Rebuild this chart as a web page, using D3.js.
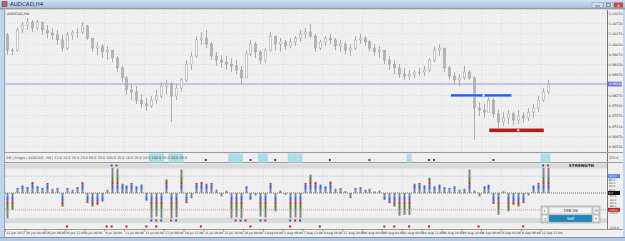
<!DOCTYPE html>
<html>
<head>
<meta charset="utf-8">
<script src="https://cdnjs.cloudflare.com/ajax/libs/d3/7.8.5/d3.min.js"></script>
<style>
html, body { margin: 0; padding: 0; background: #fff; }
svg { display: block; font-family: "DejaVu Sans", sans-serif; }
</style>
</head>
<body>
<div id="chart"></div>
<script>
// AUDCAD price bars
const firstOpen = 1.0032;
const highs = [1.0039,0.9987,1.0056,1.0076,1.0090,1.0083,1.0083,1.0069,1.0066,1.0056,
  1.0049,1.0032,1.0042,1.0049,1.0056,1.0076,1.0066,1.0021,1.0008,1.0001,
  0.9994,0.9980,0.9960,0.9926,0.9891,0.9864,0.9857,0.9830,0.9816,0.9823,
  0.9844,0.9871,0.9878,0.9871,0.9864,0.9885,0.9946,0.9974,1.0028,1.0042,
  1.0049,1.0008,0.9974,0.9963,0.9960,0.9953,0.9946,0.9926,0.9980,1.0015,
  1.0008,0.9980,0.9987,1.0042,1.0015,1.0021,1.0015,1.0021,1.0028,1.0049,
  1.0056,1.0069,1.0035,1.0015,1.0028,1.0035,1.0021,1.0015,1.0008,1.0001,
  1.0028,1.0035,1.0028,1.0015,1.0001,0.9994,0.9980,0.9960,0.9946,0.9932,
  0.9919,0.9912,0.9912,0.9919,0.9926,0.9953,0.9994,1.0001,0.9987,0.9926,
  0.9905,0.9898,0.9926,0.9912,0.9891,0.9802,0.9796,0.9830,0.9816,0.9775,
  0.9768,0.9775,0.9768,0.9775,0.9768,0.9782,0.9796,0.9823,0.9850,0.9878];
const lows = [0.9963,0.9963,0.9974,1.0039,1.0049,1.0042,1.0049,1.0032,1.0021,1.0015,
  0.9998,0.9974,0.9980,1.0015,1.0021,1.0035,1.0015,0.9974,0.9963,0.9953,
  0.9946,0.9939,0.9905,0.9871,0.9827,0.9809,0.9796,0.9782,0.9772,0.9782,
  0.9796,0.9816,0.9827,0.9734,0.9809,0.9837,0.9871,0.9912,0.9953,0.9998,
  0.9987,0.9946,0.9926,0.9919,0.9912,0.9905,0.9898,0.9864,0.9885,0.9960,
  0.9953,0.9932,0.9939,0.9974,0.9980,0.9974,0.9980,0.9987,0.9994,1.0008,
  1.0021,1.0021,0.9974,0.9980,0.9994,1.0001,0.9980,0.9974,0.9967,0.9960,
  0.9980,1.0001,0.9994,0.9974,0.9960,0.9953,0.9932,0.9912,0.9898,0.9885,
  0.9878,0.9878,0.9885,0.9891,0.9891,0.9905,0.9939,0.9960,0.9905,0.9878,
  0.9864,0.9857,0.9878,0.9878,0.9673,0.9755,0.9748,0.9768,0.9748,0.9697,
  0.9720,0.9727,0.9724,0.9727,0.9731,0.9738,0.9748,0.9768,0.9802,0.9830];
const closes = [0.9980,0.9980,1.0049,1.0066,1.0076,1.0056,1.0076,1.0049,1.0039,1.0032,
  1.0015,0.9987,1.0032,1.0039,1.0042,1.0063,1.0021,0.9987,0.9994,0.9974,
  0.9980,0.9953,0.9919,0.9885,0.9844,0.9837,0.9809,0.9796,0.9789,0.9809,
  0.9823,0.9857,0.9864,0.9823,0.9850,0.9878,0.9932,0.9960,1.0015,1.0021,
  1.0001,0.9960,0.9946,0.9939,0.9932,0.9926,0.9912,0.9885,0.9967,1.0001,
  0.9974,0.9946,0.9980,1.0028,1.0001,1.0008,0.9994,1.0008,1.0021,1.0035,
  1.0042,1.0028,0.9987,1.0008,1.0021,1.0015,0.9994,1.0001,0.9980,0.9987,
  1.0015,1.0021,1.0008,0.9987,0.9974,0.9980,0.9946,0.9932,0.9919,0.9898,
  0.9891,0.9898,0.9905,0.9905,0.9912,0.9946,0.9980,0.9987,0.9919,0.9891,
  0.9878,0.9885,0.9905,0.9885,0.9782,0.9775,0.9768,0.9809,0.9762,0.9734,
  0.9748,0.9762,0.9741,0.9755,0.9748,0.9768,0.9782,0.9809,0.9837,0.9864];

const priceTicks = [1.0107,1.0072,1.0037,1.0002,0.9967,0.9932,0.9897,0.9827,0.9792,0.9757,0.9722,0.9687,0.9652];
const bidPrice = 0.98640;

// supply / demand zones
const zoneFrom = [89.4, 97.1];
const zoneTo = [101.7, 108.2];
const zoneHigh = [0.9830, 0.9713];
const zoneLow = [0.9820, 0.9699];
const zoneMark = [96, 103];

// strength histogram
const strength = [-150,-100,30,45,35,65,40,30,60,25,
  30,-80,30,20,35,65,-60,-80,-70,-50,
  20,150,145,55,45,60,40,50,-45,-150,
  -140,-150,80,-150,-145,140,-60,-30,60,65,
  55,60,20,-20,15,-150,-145,-150,40,-40,
  -15,-140,-145,60,-110,15,-10,-150,-145,-150,
  60,110,65,50,40,68,25,30,10,-30,
  30,35,20,25,10,15,-40,-60,-80,-135,
  -130,-130,55,60,45,90,40,50,35,30,
  40,20,25,140,15,-20,40,50,-65,-130,
  10,-110,-70,-80,-60,-15,45,60,150,150];
const strengthTicks = [80,60,40,20,-20,-40,-60,-80,-120];
const alertBars = [29,30,31,33,34,35,45,46,47,51,52,57,58,59,81,108,109];
const signalDots = [40,49,54,65,73,85,86,98];
const topDots = [21,22,108,109];
const bottomDots = [29,30,31,33,34,46,47,48,51,52,57,58,59];
const redMarks = [12,20,21,24,28,30,39,49,57,63,76,78,81,85,95,104];

const timeLabels = ["22 Jun 2017","26 Jun 04:00","28 Jun 08:00","30 Jun 12:00","4 Jul 16:00",
  "6 Jul 20:00","11 Jul 00:00","13 Jul 04:00","17 Jul 08:00","19 Jul 12:00","21 Jul 16:00",
  "25 Jul 20:00","28 Jul 00:00","1 Aug 04:00","3 Aug 08:00","7 Aug 12:00","9 Aug 16:00",
  "11 Aug 20:00","16 Aug 00:00","18 Aug 04:00","22 Aug 08:00","24 Aug 12:00","28 Aug 16:00",
  "30 Aug 20:00","4 Sep 00:00","6 Sep 04:00","8 Sep 08:00","12 Sep 12:00"];

const W = 625, H = 241;
const L = 5, R = 607;
const mainTop = 10, mainBot = 152;
const sub1Top = 153, sub1Bot = 162;
const sub2Top = 163, sub2Bot = 229;
const bg = "#f0f0f0";

const bars = closes.map((c, i) => {
    const o = i === 0 ? firstOpen : closes[i - 1];
    return {i, o, c, h: Math.max(highs[i], o, c), l: Math.min(lows[i], o, c)};
});

const svg = d3.select("#chart").append("svg")
    .attr("width", W)
    .attr("height", H);

const defs = svg.append("defs");
const grad = defs.append("linearGradient").attr("id", "title").attr("x1", 0).attr("y1", 0).attr("x2", 0).attr("y2", 1);
grad.append("stop").attr("offset", "0%").attr("stop-color", "#d3e2f5");
grad.append("stop").attr("offset", "100%").attr("stop-color", "#a6c0e2");

// window frame
svg.append("rect").attr("width", W).attr("height", H).attr("fill", "#c3d5ec");
svg.append("rect").attr("width", W).attr("height", 8).attr("fill", "url(#title)");
svg.append("rect").attr("x", 2).attr("y", 1.5).attr("width", 5).attr("height", 5).attr("fill", "#e05a2a").attr("stroke", "#2a5fb0").attr("stroke-width", 0.6);
svg.append("text").attr("x", 10).attr("y", 6.2).attr("font-size", 5.5).attr("fill", "#1d2a3a").text("AUDCAD,H4");

const btns = [[592, "#cfdcee"], [604, "#cfdcee"], [614, "#d6453a"]];
btns.forEach(([bx, c]) => {
    svg.append("rect").attr("x", bx).attr("y", 2.5).attr("width", bx === 592 ? 11 : 9).attr("height", 5)
        .attr("fill", c).attr("stroke", "#7d93b3").attr("stroke-width", 0.5);
});
svg.append("line").attr("x1", 595).attr("x2", 600).attr("y1", 6).attr("y2", 6).attr("stroke", "#333").attr("stroke-width", 0.6);
svg.append("rect").attr("x", 606.5).attr("y", 3.8).attr("width", 4).attr("height", 2.6).attr("fill", "none").attr("stroke", "#333").attr("stroke-width", 0.5);
svg.append("text").attr("x", 618.5).attr("y", 6.6).attr("font-size", 4.5).attr("fill", "#fff").attr("text-anchor", "middle").text("x");

svg.append("rect").attr("x", 0).attr("y", 8).attr("width", W).attr("height", 1.5).attr("fill", "#9a9a9a");

// chart canvas
svg.append("rect").attr("x", 4).attr("y", 9.5).attr("width", 619).attr("height", 228).attr("fill", bg);
svg.append("line").attr("x1", 4.5).attr("x2", 4.5).attr("y1", 9.5).attr("y2", 237).attr("stroke", "#8ea4c2");
svg.append("rect").attr("x", 0).attr("y", 237).attr("width", W).attr("height", 4).attr("fill", "#b6c9e3");
svg.append("line").attr("x1", 0).attr("x2", W).attr("y1", 237.5).attr("y2", 237.5).attr("stroke", "#7f95b5");

// scales
const x = d3.scaleLinear().domain([-0.5, 120.9]).range([L, R]);
const y = d3.scaleLinear().domain([0.96315, 1.01173]).range([mainBot, mainTop]);
const ys = d3.scaleLinear().domain([-226, 226]).range([231, 155]);
const bw = x(1) - x(0);

// grid
const gridX = timeLabels.map((t, k) => x(k * 4) - 2);
const grid = svg.append("g").attr("stroke", "#cdcdcd").attr("stroke-width", 0.6).attr("stroke-dasharray", "1,2");
gridX.forEach(gx => {
    grid.append("line").attr("x1", gx).attr("x2", gx).attr("y1", mainTop).attr("y2", mainBot);
    grid.append("line").attr("x1", gx).attr("x2", gx).attr("y1", 169).attr("y2", 217);
});
priceTicks.forEach(p => {
    grid.append("line").attr("x1", L).attr("x2", R).attr("y1", Math.round(y(p)) + 0.5).attr("y2", Math.round(y(p)) + 0.5);
});

// price axis
svg.append("line").attr("x1", R + 0.5).attr("x2", R + 0.5).attr("y1", mainTop).attr("y2", sub2Bot).attr("stroke", "#7a7a7a");
const pAxis = svg.append("g").attr("font-size", 3.3).attr("fill", "#333");
priceTicks.forEach(p => {
    const py = Math.round(y(p)) + 0.5;
    svg.append("line").attr("x1", R).attr("x2", R + 1.5).attr("y1", py).attr("y2", py).attr("stroke", "#555").attr("stroke-width", 0.5);
    pAxis.append("text").attr("x", R + 2).attr("y", py + 1.2).text(p.toFixed(5));
});

// bid line
svg.append("line").attr("x1", L).attr("x2", R).attr("y1", y(bidPrice)).attr("y2", y(bidPrice))
    .attr("stroke", "#8f8cf0").attr("stroke-width", 0.9);
svg.append("rect").attr("x", R + 1).attr("y", y(bidPrice) - 2.4).attr("width", 14).attr("height", 4.8).attr("fill", "#7673e0");
svg.append("text").attr("x", R + 2).attr("y", y(bidPrice) + 1.2).attr("font-size", 3.3).attr("fill", "#fff").text(bidPrice.toFixed(5));

// candles
const cg = svg.append("g");
cg.selectAll("line.wick").data(bars).enter().append("line")
    .attr("x1", d => Math.round(x(d.i)) + 0.5).attr("x2", d => Math.round(x(d.i)) + 0.5)
    .attr("y1", d => y(d.h)).attr("y2", d => y(d.l))
    .attr("stroke", "#9a9a9a").attr("stroke-width", 0.8);
cg.selectAll("rect.body").data(bars).enter().append("rect")
    .attr("x", d => Math.round(x(d.i)) - 0.5)
    .attr("y", d => y(Math.max(d.o, d.c)))
    .attr("width", 2)
    .attr("height", d => Math.max(0.8, Math.abs(y(d.o) - y(d.c))))
    .attr("fill", d => d.c >= d.o ? "#fafafa" : "#b4b4b4")
    .attr("stroke", "#999").attr("stroke-width", 0.5);

// zones
const zoneColors = ["#2b5fe3", "#b51c1c"];
zoneFrom.forEach((f, k) => {
    svg.append("rect").attr("x", x(f)).attr("y", y(zoneHigh[k]))
        .attr("width", x(zoneTo[k]) - x(f)).attr("height", y(zoneLow[k]) - y(zoneHigh[k]))
        .attr("fill", zoneColors[k]).attr("stroke", "#ffffff").attr("stroke-width", 0.4);
    svg.append("rect").attr("x", x(zoneMark[k]) - 1).attr("y", (y(zoneHigh[k]) + y(zoneLow[k])) / 2 - 1)
        .attr("width", 2).attr("height", 2).attr("fill", "#fff");
});

svg.append("text").attr("x", 7).attr("y", 14.5).attr("font-size", 3.6).attr("fill", "#333").text("AUDCAD,H4");

// separators
[mainBot + 0.5, sub1Bot + 0.5, sub2Bot + 0.5].forEach(sy => {
    svg.append("line").attr("x1", 4).attr("x2", 623).attr("y1", sy).attr("y2", sy).attr("stroke", "#9c9c9c");
});

// sub window 1 : alerts
alertBars.forEach(i => {
    svg.append("rect").attr("x", x(i) - bw / 2).attr("y", sub1Top + 0.5).attr("width", bw).attr("height", sub1Bot - sub1Top)
        .attr("fill", "#a9dde9");
});
svg.append("text").attr("x", 6).attr("y", 158.6).attr("font-size", 3.4).attr("fill", "#3a3a3a")
    .text("SSI | Single | AUDCAD : H4 | 13.0 13.0 25.0 25.0 50.0 25.0 100.0 25.0 10.0 25.0 10.0 100.0 25.0 10.0 25.0");
signalDots.forEach(i => {
    svg.append("rect").attr("x", x(i) - 1).attr("y", 159).attr("width", 2).attr("height", 2).attr("fill", "#2244dd");
});
svg.append("text").attr("x", R + 2).attr("y", 158.5).attr("font-size", 3.3).attr("fill", "#333").text("226.0");

// sub window 2 : strength
svg.append("rect").attr("x", L).attr("y", sub2Top + 0.5).attr("width", R - L).attr("height", 5).attr("fill", "#dadada");
svg.append("rect").attr("x", L).attr("y", 218).attr("width", R - L).attr("height", 5).attr("fill", "#dadada");
svg.append("text").attr("x", 594).attr("y", 167.3).attr("font-size", 4.2).attr("font-weight", "bold").attr("fill", "#222")
    .attr("text-anchor", "end").text("STRENGTH");

const levels = [[100, "#9db8ef"], [0, "#333"], [-100, "#e06a6a"]];
levels.forEach(([v, c]) => {
    svg.append("line").attr("x1", L).attr("x2", R).attr("y1", ys(v)).attr("y2", ys(v))
        .attr("stroke", c).attr("stroke-width", 0.7).attr("stroke-dasharray", "1,1");
});

const bands = [[0, 20, "#858585"], [20, 50, "#3a69e0"], [50, 70, "#cf2b2b"], [70, 95, "#3f8e3a"], [95, 999, "#858585"]];
const hg = svg.append("g");
strength.forEach((v, i) => {
    const a = Math.abs(v), s = Math.sign(v);
    bands.forEach(([b0, b1, c]) => {
        if (a <= b0) return;
        const top = s * Math.min(a, b1), bot = s * b0;
        hg.append("rect").attr("x", Math.round(x(i)) - 0.5).attr("width", 2)
            .attr("y", Math.min(ys(top), ys(bot))).attr("height", Math.abs(ys(top) - ys(bot)))
            .attr("fill", c);
    });
});
topDots.forEach((i, k) => {
    svg.append("rect").attr("x", x(i) - 1).attr("y", 164.5).attr("width", 2).attr("height", 2).attr("fill", k % 2 ? "#d02a2a" : "#2b4fe0");
});
bottomDots.forEach((i, k) => {
    svg.append("rect").attr("x", x(i) - 1).attr("y", 219.5).attr("width", 2).attr("height", 2).attr("fill", k % 2 ? "#d02a2a" : "#2b4fe0");
});
redMarks.forEach(i => {
    svg.append("rect").attr("x", x(i) - 1).attr("y", 225.5).attr("width", 2).attr("height", 2).attr("fill", "#c01818");
});

// strength axis labels
const sAxis = svg.append("g").attr("font-size", 2.8).attr("fill", "#444");
strengthTicks.forEach(v => sAxis.append("text").attr("x", R + 2).attr("y", ys(v) + 1).text(v.toFixed(1)));
const boxes = [[100, "#4f80e6"], [0, "#111"], [-100, "#c22424"]];
boxes.forEach(([v, c]) => {
    svg.append("rect").attr("x", R + 1).attr("y", ys(v) - 2).attr("width", 12).attr("height", 4).attr("fill", c);
    svg.append("text").attr("x", R + 1.6).attr("y", ys(v) + 1.1).attr("font-size", 2.8).attr("fill", "#fff").text(v.toFixed(1));
});
svg.append("text").attr("x", R + 2).attr("y", 229).attr("font-size", 3.1).attr("fill", "#444").text("-226.0");

// trade panel
const panel = svg.append("g").attr("font-size", 4);
panel.append("rect").attr("x", 541).attr("y", 206).attr("width", 59).attr("height", 17).attr("fill", "#e6e6e6").attr("stroke", "#8a8a8a").attr("stroke-width", 0.5);
[[542, 207, 6, "#f4f4f4", "L"], [549, 207, 43, "#f4f4f4", "198.06"], [593, 207, 6, "#f4f4f4", "TP"],
 [542, 215, 6, "#f4f4f4", "□"], [549, 215, 43, "#1f87ba", "Sell"], [593, 215, 6, "#f4f4f4", "S"]].forEach(([bx, by, w, c, t]) => {
    panel.append("rect").attr("x", bx).attr("y", by).attr("width", w).attr("height", 7).attr("fill", c).attr("stroke", "#8f8f8f").attr("stroke-width", 0.5);
    panel.append("text").attr("x", bx + w / 2).attr("y", by + 5).attr("text-anchor", "middle")
        .attr("fill", c === "#1f87ba" ? "#fff" : "#333").attr("font-size", w > 10 ? 4.2 : 3.2).text(t);
});

// time axis
const tAxis = svg.append("g").attr("font-size", 3.1).attr("fill", "#333");
timeLabels.forEach((t, k) => {
    const tx = x(k * 4) - 2;
    svg.append("line").attr("x1", tx).attr("x2", tx).attr("y1", sub2Bot).attr("y2", sub2Bot + 2.5).attr("stroke", "#555").attr("stroke-width", 0.5);
    tAxis.append("text").attr("x", tx + 0.8).attr("y", 234.3).text(t);
});
</script>
</body>
</html>
